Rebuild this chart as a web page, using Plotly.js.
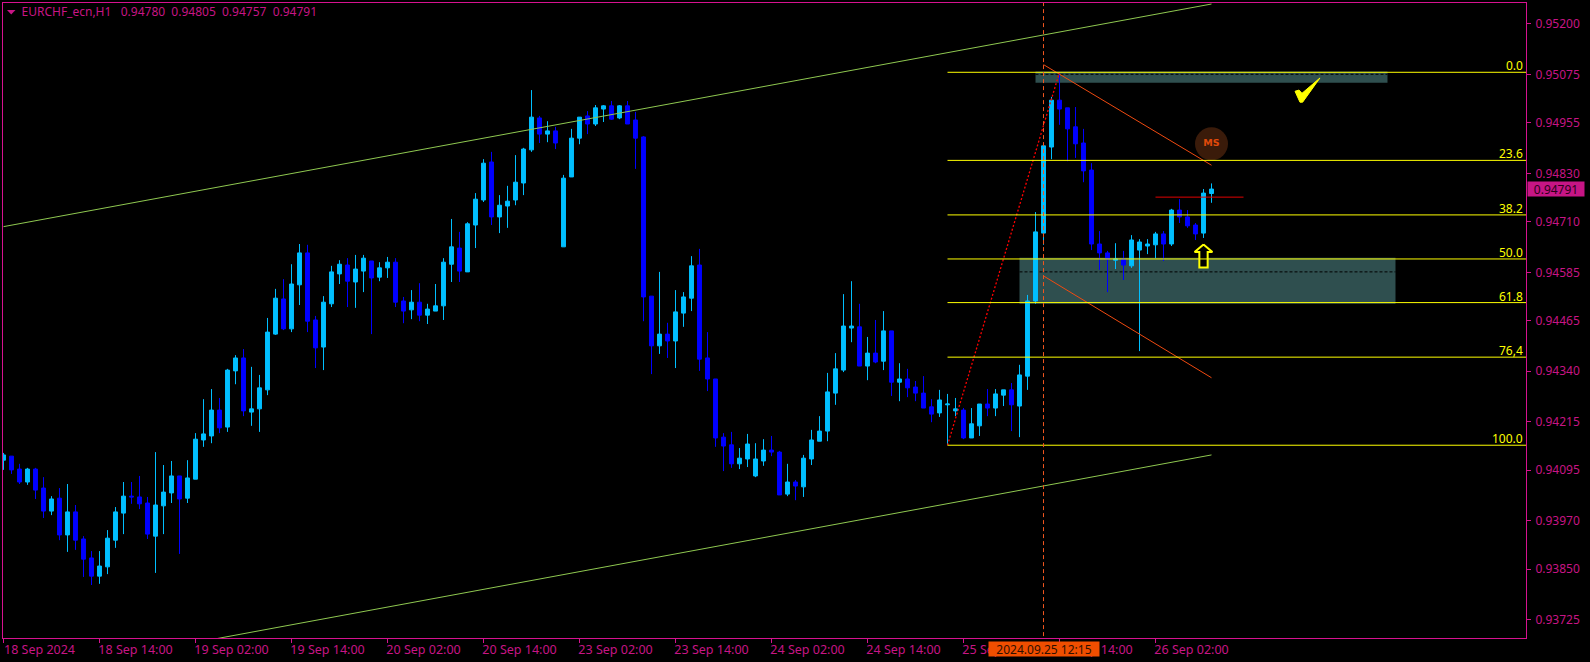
<!DOCTYPE html>
<html><head><meta charset="utf-8">
<script src="https://cdn.plot.ly/plotly-3.0.1.min.js"></script>
<style>html,body{margin:0;padding:0;background:#000;overflow:hidden}</style>
</head><body><div id="chart" style="width:1590px;height:662px"></div>
<script>
const opens=[.94120,.94130,.94098,.94066,.94098,.94051,.93994,.94026,.93935,.93992,.93925,.93878,.93833,.93856,.93922,.93989,.94031,.94029,.94014,.93932,.94007,.94039,.94081,.94026,.94073,.94170,
.94180,.94244,.94202,.94341,.94373,.94239,.94247,.94294,.94432,.94519,.94445,.94554,.94633,.94467,.94400,.94507,.94581,.94603,.94561,.94588,.94613,.94573,.94596,.94610,.94514,.94492,.94511,.94479,.94489,.94502,.94605,.94645,.94586,.94702,.94764,.94858,.94722,.94749,.94764,.94806,.94888,.94967,.94927,.94935,.94648,.94821,.94917,.94972,.94952,.94989,.94997,.94967,.94997,.94962,.94920,.94526,.94403,.94432,.94415,.94484,.94521,.94603,.94373,.94321,.94177,.94158,.94111,.94123,.94081,.94118,.94145,.94140,.94036,.94066,.94054,.94123,.94167,.94192,.94286,.94343,.94447,.94450,.94353,.94385,.94365,.94440,.94313,.94321,.94301,.94286,.94252,.94237,.94257,.94242,.94244,.94175,.94205,.94259,.94249,.94281,.94294,.94254,.94328,.94514,.94682,.94895,.95011,.94992,.94945,.94905,.94838,.94655,.94633,.94615,.94618,.94601,.94640,.94650,.94653,.94680,.94655,.94739,.94722,.94702,.94682,.94780];
const highs=[.94138,.94130,.94111,.94101,.94101,.94078,.94031,.94051,.94061,.94009,.93932,.93895,.93895,.93947,.94004,.94066,.94066,.94081,.94029,.94140,.94108,.94118,.94081,.94120,.94187,.94271,
.94296,.94274,.94346,.94380,.94395,.94351,.94331,.94472,.94544,.94568,.94605,.94655,.94653,.94477,.94526,.94601,.94615,.94620,.94628,.94628,.94613,.94610,.94623,.94620,.94524,.94541,.94558,.94507,.94556,.94620,.94717,.94685,.94709,.94781,.94865,.94883,.94776,.94799,.94875,.94893,.95036,.94972,.94959,.94945,.94826,.94940,.94969,.94984,.94999,.94999,.95009,.94999,.95009,.94982,.94922,.94526,.94586,.94460,.94541,.94536,.94625,.94643,.94437,.94321,.94187,.94190,.94150,.94185,.94162,.94172,.94180,.94143,.94111,.94071,.94133,.94195,.94229,.94336,.94385,.94531,.94563,.94507,.94425,.94467,.94489,.94440,.94360,.94346,.94316,.94328,.94271,.94294,.94284,.94274,.94249,.94249,.94259,.94296,.94296,.94294,.94311,.94356,.94529,.94734,.94898,.95019,.95080,.94992,.94994,.94940,.94855,.94687,.94638,.94657,.94638,.94677,.94667,.94667,.94685,.94687,.94742,.94766,.94739,.94707,.94791,.94805];
const lows=[.94096,.94086,.94061,.94059,.94024,.93977,.93984,.93922,.93893,.93898,.93831,.93811,.93814,.93838,.93903,.93937,.94012,.93999,.93925,.93841,.93937,.94014,.93888,.94014,.94073,.94153,
.94162,.94187,.94190,.94308,.94229,.94205,.94190,.94281,.94430,.94442,.94437,.94504,.94437,.94348,.94343,.94499,.94556,.94499,.94497,.94536,.94432,.94563,.94571,.94499,.94459,.94469,.94464,.94457,.94489,.94467,.94561,.94561,.94586,.94645,.94759,.94702,.94682,.94695,.94751,.94776,.94883,.94905,.94907,.94890,.94648,.94821,.94902,.94927,.94947,.94957,.94962,.94964,.94952,.94841,.94464,.94333,.94383,.94373,.94348,.94450,.94489,.94341,.94291,.94153,.94093,.94101,.94098,.94103,.94078,.94106,.94130,.94034,.94031,.94021,.94029,.94108,.94167,.94167,.94257,.94338,.94412,.94353,.94318,.94360,.94343,.94279,.94266,.94276,.94266,.94249,.94214,.94227,.94158,.94229,.94172,.94175,.94180,.94229,.94229,.94254,.94192,.94177,.94294,.94507,.94653,.94865,.94950,.94860,.94868,.94808,.94640,.94591,.94536,.94593,.94566,.94596,.94390,.94630,.94620,.94613,.94650,.94707,.94695,.94665,.94670,.94757];
const closes=[.94133,.94096,.94066,.94098,.94046,.93994,.94024,.93935,.93992,.93922,.93875,.93833,.93858,.93927,.93992,.94031,.94029,.94012,.93937,.94009,.94041,.94081,.94024,.94076,.94172,.94185,
.94244,.94200,.94343,.94373,.94242,.94247,.94299,.94437,.94521,.94445,.94556,.94633,.94464,.94398,.94511,.94586,.94605,.94563,.94593,.94620,.94571,.94596,.94610,.94511,.94489,.94511,.94479,.94494,.94502,.94610,.94648,.94588,.94705,.94766,.94855,.94722,.94751,.94761,.94808,.94890,.94969,.94927,.94935,.94905,.94818,.94917,.94969,.94952,.94992,.94997,.94964,.94997,.94952,.94917,.94524,.94403,.94432,.94415,.94487,.94524,.94601,.94370,.94321,.94175,.94155,.94111,.94125,.94160,.94123,.94145,.94140,.94034,.94066,.94056,.94125,.94170,.94192,.94289,.94346,.94452,.94452,.94353,.94385,.94363,.94440,.94313,.94321,.94299,.94286,.94249,.94234,.94269,.94259,.94247,.94175,.94210,.94259,.94249,.94284,.94294,.94257,.94331,.94514,.94685,.94898,.95011,.94989,.94940,.94903,.94836,.94655,.94633,.94618,.94618,.94603,.94665,.94660,.94655,.94680,.94655,.94739,.94722,.94700,.94680,.94781,.94791];
const barIndex=opens.map((_,i)=>i);

const xTickBars=[0,12,24,36,48,60,72,84,96,108,120,132,144];
const xTickLabels=["18 Sep 2024","18 Sep 14:00","19 Sep 02:00","19 Sep 14:00","20 Sep 02:00","20 Sep 14:00","23 Sep 02:00","23 Sep 14:00","24 Sep 02:00","24 Sep 14:00","25 Sep 02:00","25 Sep 14:00","26 Sep 02:00"];
const yTickValues=[.95200,.95075,.94955,.94830,.94710,.94585,.94465,.94340,.94215,.94095,.93970,.93850,.93725];

const fibLabels=["0.0","23.6","38.2","50.0","61.8","76,4","100.0"];
const fibPrices=[.95080,.94862,.94727,.94618,.94510,.94375,.94157];
const fibStartBar=118, fibEndBar=132;
const channelUpperX=[0,151], channelUpperY=[.94698,.95249];
const channelLowerX=[26,151], channelLowerY=[.93676,.94133];
const trendAX=[130,151], trendAY=[.95099,.94850];
const trendBX=[130,151], trendBY=[.94576,.94324];
const redLineX=[144,155], redLineY=[.94771,.94771];
const zoneUpper={x0:129,x1:173,y0:.95054,y1:.95082,mid:.95075};
const zoneLower={x0:127,x1:174,y0:.94507,y1:.94621,mid:.94586};
const crossBar=130;
const arrowX=[150,151.11,150.52,150.52,149.48,149.48,148.89,150];
const arrowY=[.94654,.94635,.94635,.94597,.94597,.94635,.94635,.94654];
const checkX=[161.44,161.94,162.31,164.56,162.39,162.06,161.44];
const checkY=[.95033,.95036,.95028,.95066,.95006,.95006,.95033];
const msX=[151], msY=[.94903];
const axisMaxX=190.3125;

const MAG='#C71585', SPINE='#D6128F', YEL='#FFFF00', ORG='#F04A10';
const FONT='"Noto Sans", sans-serif';
const last=opens.length-1;
const fmt=v=>v.toFixed(5);
const line=(x,y,color,dash,w)=>({type:'scatter',mode:'lines',x,y,hoverinfo:'skip',showlegend:false,line:{color,width:w||1,dash:dash||'solid'}});
const px=v=>(v-3)/1523, py=v=>1-(v-3)/635;

const traces=[
 {type:'candlestick',x:barIndex,open:opens,high:highs,low:lows,close:closes,showlegend:false,hoverinfo:'skip',whiskerwidth:0,
  increasing:{line:{color:'#00BFFF',width:1},fillcolor:'#00BFFF'},
  decreasing:{line:{color:'#0000FF',width:1},fillcolor:'#0000FF'}},
 line(channelUpperX,channelUpperY,'#8FC850'),
 line(channelLowerX,channelLowerY,'#8FC850'),
 line([fibStartBar,fibEndBar],[fibPrices[6],fibPrices[0]],'#FF0000','2px,2px',1.3),
 line(trendAX,trendAY,ORG),
 line(trendBX,trendBY,ORG),
 line(redLineX,redLineY,'#E00000'),
 {type:'scatter',mode:'lines',x:arrowX,y:arrowY,fill:'toself',fillcolor:'#000',line:{color:YEL,width:2},hoverinfo:'skip',showlegend:false},
 {type:'scatter',mode:'lines',x:checkX,y:checkY,fill:'toself',fillcolor:YEL,line:{color:YEL,width:1},hoverinfo:'skip',showlegend:false},
 {type:'scatter',mode:'markers+text',x:msX,y:msY,text:['MS'],textposition:'middle center',
  marker:{size:33,color:'#3A1B0A',line:{width:0}},textfont:{family:'"DejaVu Sans"',size:9.5,weight:'bold',color:'#E04A0A'},hoverinfo:'skip',showlegend:false}
];

const zoneShapes=[zoneUpper,zoneLower].flatMap(z=>[
 {type:'rect',layer:'below',xref:'x',yref:'y',x0:z.x0,x1:z.x1,y0:z.y0,y1:z.y1,fillcolor:'#2F4F4F',line:{width:0}},
 {type:'line',layer:'below',xref:'x',yref:'y',x0:z.x0,x1:z.x1,y0:z.mid,y1:z.mid,line:{color:'#000',width:1,dash:'3px,2px'}}
]);
const fibShapes=fibPrices.map(p=>({type:'line',layer:'above',xref:'x',yref:'y',x0:fibStartBar,x1:axisMaxX,y0:p,y1:p,line:{color:YEL,width:1}}));
const crossShape={type:'line',layer:'above',xref:'x',yref:'paper',x0:crossBar,x1:crossBar,y0:0.003,y1:1,line:{color:'#F0551E',width:1,dash:'4px,3px'}};
const legendTriangle={type:'path',layer:'above',xref:'paper',yref:'paper',path:`M ${px(7)} ${py(10)} L ${px(15.5)} ${py(10)} L ${px(11.2)} ${py(14.5)} Z`,fillcolor:MAG,line:{width:0}};

const fibAnn=fibLabels.map((t,i)=>({xref:'paper',yref:'y',x:0.99934,y:fibPrices[i],xanchor:'right',yanchor:'bottom',yshift:-4,showarrow:false,text:t,font:{family:FONT,size:12,color:YEL}}));

const GAP='\u00a0 ';
const layout={
 width:1590,height:662,paper_bgcolor:'#000',plot_bgcolor:'#000',showlegend:false,dragmode:false,
 margin:{l:3,r:64,t:3,b:24,pad:0},
 title:{text:`EURCHF_ecn,H1\u00a0\u00a0 ${[opens[last],highs[last],lows[last],closes[last]].map(fmt).join(GAP)}`,
  x:21.5/1590,xref:'container',xanchor:'left',y:1-12/662,yref:'container',yanchor:'middle',font:{family:FONT,size:12,color:MAG}},
 xaxis:{type:'linear',range:[-0.0625,axisMaxX],showgrid:false,zeroline:false,showline:true,mirror:true,linecolor:SPINE,linewidth:1,
  ticks:'outside',ticklen:4,tickwidth:1,tickcolor:SPINE,tickmode:'array',tickvals:xTickBars,ticktext:xTickLabels,ticklabelshift:36,ticklabelstandoff:-4,
  tickangle:0,tickfont:{family:FONT,size:12.5,color:MAG},rangeslider:{visible:false},fixedrange:true},
 yaxis:{side:'right',range:[.936799,.952515],showgrid:false,zeroline:false,showline:true,mirror:true,linecolor:SPINE,linewidth:1,
  ticks:'outside',ticklen:4,tickwidth:1,tickcolor:SPINE,tickmode:'array',tickvals:yTickValues,tickformat:'.5f',ticklabelstandoff:2,
  tickfont:{family:FONT,size:12,color:MAG},fixedrange:true},
 shapes:[...zoneShapes,...fibShapes,crossShape,legendTriangle],
 annotations:[
  ...fibAnn,
  {xref:'paper',yref:'y',x:px(1556),xanchor:'center',y:closes[last],yanchor:'middle',text:fmt(closes[last]),showarrow:false,bgcolor:MAG,width:56,height:14,borderpad:0,font:{family:FONT,size:12,color:'#2A0018'}},
  {xref:'x',yref:'paper',x:crossBar,xanchor:'center',y:py(649),yanchor:'middle',text:'2024.09.25 12:15',showarrow:false,bgcolor:'#F04E00',width:110,height:14,borderpad:0,font:{family:FONT,size:12,color:'#301000'}}
 ]
};
Plotly.newPlot('chart',traces,layout,{displayModeBar:false,staticPlot:true});
</script></body></html>
